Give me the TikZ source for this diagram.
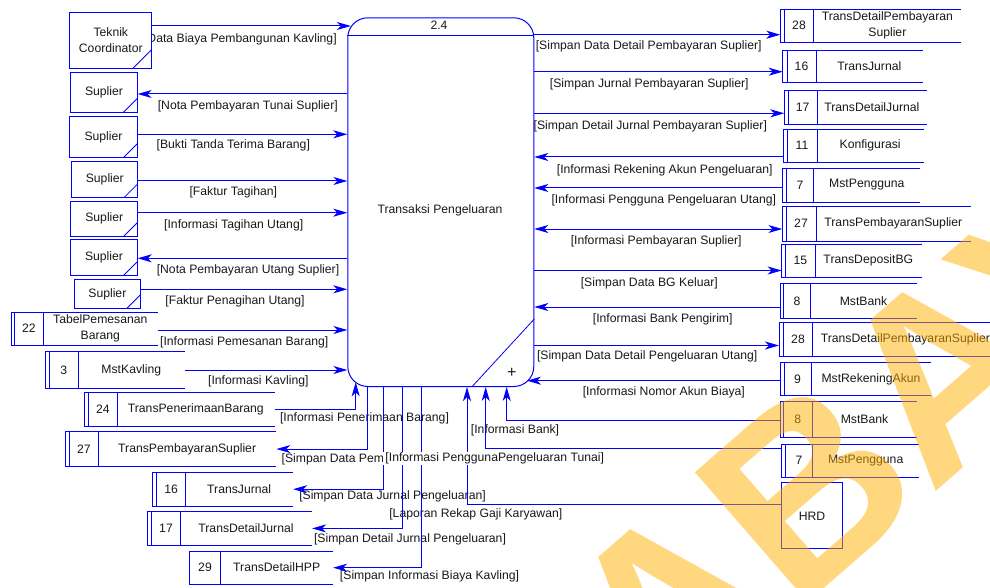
\documentclass[tikz,border=0pt]{standalone}
\usepackage{fontspec}
\setmainfont{Liberation Sans}
\usetikzlibrary{arrows.meta}
\definecolor{dfd}{RGB}{0,0,255}
\definecolor{ink}{RGB}{25,25,25}
\definecolor{wmorange}{RGB}{255,176,0}
% data store: name, left x, gap of inner line, separator x, right x, top y, bottom y, id, title
\newcommand{\dstore}[9]{%
  \node[storebox, minimum width={(#5-#2)*1pt}, minimum height={(#7-#6)*1pt}] (#1) at (#2,#6) {};
  \draw[storeline] (#1.north east) -- (#1.north west) -- (#1.south west) -- (#1.south east);
  \draw[storeline] ([xshift=#3pt]#1.north west) -- ([xshift=#3pt]#1.south west);
  \draw[storeline] (#1.north west -| #4,0) -- (#1.south west -| #4,0);
  \node (#1-id) at ({(#2+#3+#4)/2},{(#6+#7)/2}) {#8};
  \node[align=center] (#1-name) at ({(#4+#5)/2},{(#6+#7)/2}) {#9};
}
\begin{document}
\begin{tikzpicture}[x=1pt,y=-1pt,
  every node/.style={font=\fontsize{12.2}{16}\selectfont, text=ink},
  tip/.tip={Stealth[length=14pt,width=8pt,inset=4pt]},
  flow/.style={draw=dfd, line width=1pt, -tip},
  flowboth/.style={draw=dfd, line width=1pt, tip-tip},
  storebox/.style={inner sep=0pt, anchor=north west},
  storeline/.style={draw=dfd, line width=0.9pt},
  cornerline/.style={draw=dfd, line width=0.8pt},
  entity/.style={draw=dfd, fill=white, line width=1pt, inner sep=0pt, align=center, anchor=north west,
    path picture={\draw[cornerline] ([xshift=-#1pt]path picture bounding box.south east) -- ([yshift=#1pt]path picture bounding box.south east);}},
  entity/.default=14,
  lbl/.style={inner sep=1pt},
  coverlbl/.style={inner xsep=2.5pt, inner ysep=1pt, fill=white},
]
\useasboundingbox (0,0) rectangle (990,588);
\clip (0,0) rectangle (990,588);
\fill[white] (0,0) rectangle (990,588);

% ---------- flow labels ----------
\node[lbl] (l1) at (240.4,39) {[Data Biaya Pembangunan Kavling]};
\node[lbl] (l2) at (247.8,106) {[Nota Pembayaran Tunai Suplier]};
\node[lbl] (l3) at (233.3,145.7) {[Bukti Tanda Terima Barang]};
\node[lbl] (l4) at (233.3,192.7) {[Faktur Tagihan]};
\node[lbl] (l5) at (233.7,225) {[Informasi Tagihan Utang]};
\node[lbl] (l6) at (248,270) {[Nota Pembayaran Utang Suplier]};
\node[lbl] (l7) at (235,301.7) {[Faktur Penagihan Utang]};
\node[lbl] (l8) at (244.2,342.7) {[Informasi Pemesanan Barang]};
\node[lbl] (l9) at (258.3,381.7) {[Informasi Kavling]};

\node[lbl] (r1) at (648.7,46.7) {[Simpan Data Detail Pembayaran Suplier]};
\node[lbl] (r2) at (649.3,84) {[Simpan Jurnal Pembayaran Suplier]};
\node[lbl] (r3) at (650.3,126) {[Simpan Detail Jurnal Pembayaran Suplier]};
\node[lbl] (r4) at (664.7,170) {[Informasi Rekening Akun Pengeluaran]};
\node[lbl] (r5) at (663.8,200) {[Informasi Pengguna Pengeluaran Utang]};
\node[lbl] (r6) at (656.2,241.7) {[Informasi Pembayaran Suplier]};
\node[lbl] (r7) at (649.3,283.3) {[Simpan Data BG Keluar]};
\node[lbl] (r8) at (662.7,319) {[Informasi Bank Pengirim]};
\node[lbl] (r9) at (647.2,356.7) {[Simpan Data Detail Pengeluaran Utang]};
\node[lbl] (r10) at (663.8,392.7) {[Informasi Nomor Akun Biaya]};

\node[lbl] (b1) at (364.5,418.5) {[Informasi Penerimaan Barang]};
\node[lbl, anchor=west] (b2) at (280.5,459) {[Simpan Data Pembayaran Suplier]};
\node[lbl] (b3) at (392.5,496.7) {[Simpan Data Jurnal Pengeluaran]};
\node[lbl] (b4) at (410,539) {[Simpan Detail Jurnal Pengeluaran]};
\node[lbl] (b5) at (429.5,576.7) {[Simpan Informasi Biaya Kavling]};
\node[lbl] (b6) at (475.8,514.3) {[Laporan Rekap Gaji Karyawan]};
\node[lbl] (b8) at (515,430) {[Informasi Bank]};

% ---------- process ----------
\node[draw=dfd, fill=white, line width=1pt, rounded corners=20pt, inner sep=0pt,
      minimum width=186pt, minimum height=368.7pt, anchor=north west] (proc) at (347.3,17.3) {};
\draw[dfd, line width=1pt] ([yshift=-18.7pt]proc.north west) -- ([yshift=-18.7pt]proc.north east);
\draw[dfd, line width=0.8pt] ([yshift=68pt]proc.south east) -- ([xshift=-62.6pt]proc.south east);
\node (pnum) at (439,25.7) {2.4};
\node (pname) at (440,210) {Transaksi Pengeluaran};
\node[font=\fontsize{16}{16}\selectfont] (pplus) at (511.7,372.5) {+};

% points on the rounded outline of the process
\coordinate (ptek) at (350.8,26);
\coordinate (pr10) at (527,380.7);
\coordinate (pb10) at (355.7,382.3);

% ---------- external entities ----------
\node[entity=19, minimum width=82pt, minimum height=56.3pt] (tek) at (69.3,11.7) {Teknik\\Coordinator};
\node[entity, minimum width=66.4pt, minimum height=40.3pt] (sup1) at (70.3,71.7) {Suplier};
\node[entity, minimum width=67.4pt, minimum height=41.3pt] (sup2) at (69.3,116) {Suplier};
\node[entity, minimum width=66pt, minimum height=36pt] (sup3) at (71.3,161.3) {Suplier};
\node[entity, minimum width=67pt, minimum height=35pt] (sup4) at (70.3,200.7) {Suplier};
\node[entity, minimum width=66.4pt, minimum height=36pt] (sup5) at (70.3,239.3) {Suplier};
\node[entity, minimum width=66.3pt, minimum height=29.6pt] (sup6) at (73.7,278.7) {Suplier};
\node[draw=dfd, fill=white, line width=1pt, inner sep=0pt, anchor=north west,
      minimum width=60.4pt, minimum height=66pt] (hrd) at (781.3,482.3) {HRD};

% ---------- data stores ----------
\dstore{s22}{11}{3.5}{43.3}{157.3}{312}{345}{22}{TabelPemesanan\\Barang}
\dstore{s3}{45.7}{3.6}{78.3}{184.3}{351.7}{388.3}{3}{MstKavling}
\dstore{s24}{84}{4.3}{117.3}{274.3}{392.7}{425.7}{24}{TransPenerimaanBarang}
\dstore{s27b}{65}{4.3}{98.3}{276}{431.7}{466}{27}{TransPembayaranSuplier}
\dstore{s16b}{152.3}{4.4}{185.7}{292.7}{472.3}{505.7}{16}{TransJurnal}
\dstore{s17b}{147.7}{4}{180.3}{311.7}{511.7}{544.7}{17}{TransDetailJurnal}
\dstore{s29}{189.3}{0}{220.7}{332.7}{551}{584}{29}{TransDetailHPP}

\dstore{s28a}{780.3}{4}{813.7}{961}{9}{42.3}{28}{TransDetailPembayaran\\Suplier}
\dstore{s16a}{782.7}{4.3}{816}{922.7}{50}{82.3}{16}{TransJurnal}
\dstore{s17a}{784.3}{4}{817}{926.7}{90}{124.3}{17}{TransDetailJurnal}
\dstore{s11}{783.3}{3.7}{817}{923.3}{129.3}{162.3}{11}{Konfigurasi}
\dstore{s7a}{782.7}{3.8}{813.7}{920}{168.3}{201.7}{7}{MstPengguna}
\dstore{s27a}{782.3}{3.7}{816}{970.7}{206.7}{240.7}{27}{TransPembayaranSuplier}
\dstore{s15}{781.7}{4}{815}{921.7}{244.3}{277.3}{15}{TransDepositBG}
\dstore{s8a}{780}{3.7}{810.3}{916.7}{283.7}{318}{8}{MstBank}
\dstore{s28b}{779}{4.3}{812.7}{998}{322}{355.7}{28}{TransDetailPembayaranSuplier}
\dstore{s9}{780.3}{3.7}{811}{931}{362.7}{395}{9}{MstRekeningAkun}
\dstore{s8b}{780.3}{3}{812.3}{916.7}{401.7}{436.7}{8}{MstBank}
\dstore{s7b}{781.7}{4}{812.3}{919}{444.3}{477.3}{7}{MstPengguna}

% ---------- flows, left side ----------
\draw[flow] (tek.east |- 0,26) -- (ptek);
\draw[flow] (proc.west |- 0,94) -- (sup1.east |- 0,94);
\draw[flow] (sup2.east |- 0,134.3) -- (proc.west |- 0,134.3);
\draw[flow] (sup3.east |- 0,181) -- (proc.west |- 0,181);
\draw[flow] (sup4.east |- 0,212.7) -- (proc.west |- 0,212.7);
\draw[flow] (proc.west |- 0,258.3) -- (sup5.east |- 0,258.3);
\draw[flow] (sup6.east |- 0,289.3) -- (proc.west |- 0,289.3);
\draw[flow] (s22.east |- 0,330) -- (proc.west |- 0,330);
\draw[flow] (s3.east |- 0,370) -- (proc.west |- 0,370);

% ---------- flows, right side ----------
\draw[flow] (proc.east |- 0,34.7) -- (s28a.west |- 0,34.7);
\draw[flow] (proc.east |- 0,71.7) -- (s16a.west |- 0,71.7);
\draw[flow] (proc.east |- 0,113.3) -- (s17a.west |- 0,113.3);
\draw[flow] (s11.west |- 0,157) -- (proc.east |- 0,157);
\draw[flow] (s7a.west |- 0,188) -- (proc.east |- 0,188);
\draw[flowboth] (proc.east |- 0,229) -- (s27a.west |- 0,229);
\draw[flow] (proc.east |- 0,270.5) -- (s15.west |- 0,270.5);
\draw[flow] (s8a.west |- 0,307) -- (proc.east |- 0,307);
\draw[flow] (proc.east |- 0,345.5) -- (s28b.west |- 0,345.5);
\draw[flow] (s9.west |- 0,380.7) -- (pr10);

% ---------- flows, bottom ----------
\draw[flow] (s24.east) -| (pb10);
\draw[flow] (proc.south -| 367.7,0) |- (s27b.east);
\draw[flow] (proc.south -| 383.3,0) |- (s16b.east);
\draw[flow] (proc.south -| 402.3,0) |- (s17b.east);
\draw[flow] (proc.south -| 421.7,0) |- (s29.east);
\draw[flow] (hrd.west |- 0,504.3) -| (proc.south -| 467,0);
\draw[flow] (s7b.west |- 0,448.3) -| (proc.south -| 485.7,0);
\draw[flow] (s8b.west |- 0,420) -| (proc.south -| 506.7,0);

% label set on an opaque ground over the lines behind it
\node[coverlbl] (b7) at (494.8,458.3) {[Informasi PenggunaPengeluaran Tunai]};

% ---------- watermark ----------
\node[rotate=41, inner sep=0pt, text=wmorange, text opacity=0.5,
      font=\fontsize{250}{250}\selectfont\bfseries] (wmark) at (722,564) {SURABAYA};
\end{tikzpicture}
\end{document}
